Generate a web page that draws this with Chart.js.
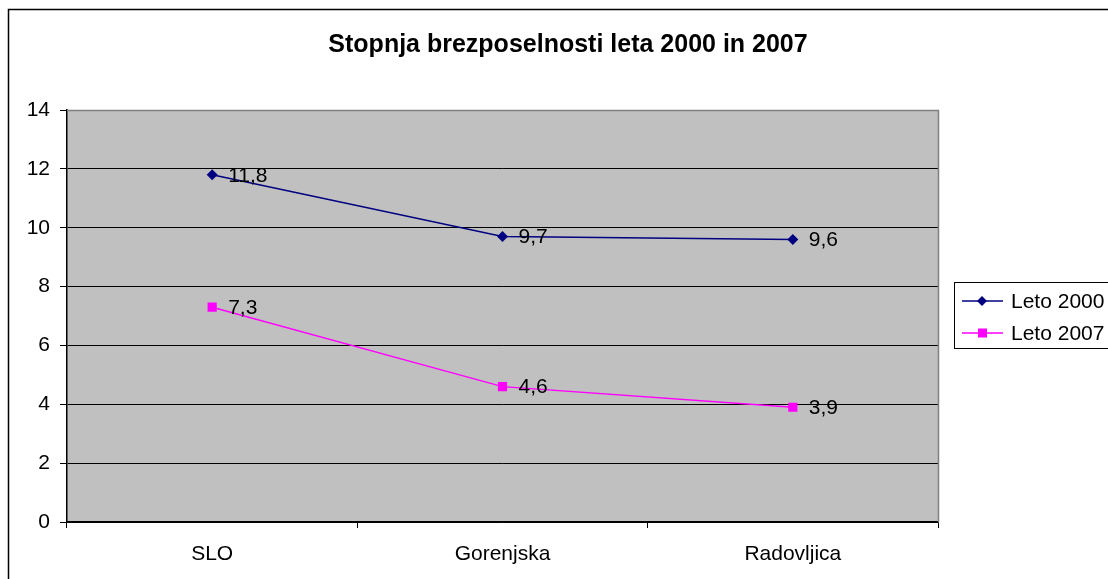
<!DOCTYPE html>
<html>
<head>
<meta charset="utf-8">
<script src="https://cdn.jsdelivr.net/npm/chart.js@4"></script>
<style>
  html, body { margin: 0; padding: 0; background: #fff; }
  canvas { display: block; }
</style>
</head>
<body>
<canvas id="chart" width="1108" height="579"></canvas>
<script>
const categories = ['SLO', 'Gorenjska', 'Radovljica'];
const leto2000 = [11.8, 9.7, 9.6];
const leto2007 = [7.3, 4.6, 3.9];
const seriesNames = ['Leto 2000', 'Leto 2007'];
const titleText = 'Stopnja brezposelnosti leta 2000 in 2007';

const FONT = '"Liberation Sans", Arial, sans-serif';

const framePlugin = {
  id: 'frame',
  beforeDraw(chart) {
    const { ctx, chartArea: a } = chart;
    ctx.save();
    ctx.fillStyle = '#fff';
    ctx.fillRect(0, 0, chart.width, chart.height);
    ctx.fillStyle = '#c0c0c0';
    ctx.fillRect(a.left, a.top, a.right - a.left, a.bottom - a.top);
    ctx.restore();
  },
  afterDraw(chart) {
    const { ctx, chartArea: a } = chart;
    ctx.save();
    // plot border top/right in gray
    ctx.strokeStyle = '#808080';
    ctx.lineWidth = 1.5;
    ctx.beginPath();
    ctx.moveTo(a.left, a.top + 0.5);
    ctx.lineTo(a.right + 0.5, a.top + 0.5);
    ctx.lineTo(a.right + 0.5, a.bottom);
    ctx.stroke();

    // outer frame
    ctx.strokeStyle = '#000';
    ctx.lineWidth = 1.5;
    ctx.strokeRect(8.5, 9.5, chart.width + 10, chart.height + 10);

    // title
    ctx.fillStyle = '#000';
    ctx.font = 'bold 25px ' + FONT;
    ctx.textAlign = 'center';
    ctx.textBaseline = 'alphabetic';
    ctx.fillText(titleText, 568, 52);

    // data labels
    ctx.font = '21px ' + FONT;
    ctx.textAlign = 'left';
    ctx.textBaseline = 'middle';
    chart.data.datasets.forEach((ds, i) => {
      chart.getDatasetMeta(i).data.forEach((pt, j) => {
        ctx.fillText(String(ds.data[j]).replace('.', ','), pt.x + 16, pt.y + 1);
      });
    });

    // legend
    ctx.fillStyle = '#fff';
    ctx.fillRect(954.5, 282.5, 160, 66);
    ctx.strokeStyle = '#000';
    ctx.lineWidth = 1;
    ctx.strokeRect(954.5, 282.5, 160, 66);
    const rows = [301, 333];
    chart.data.datasets.forEach((ds, i) => {
      const y = rows[i];
      ctx.strokeStyle = ds.borderColor;
      ctx.lineWidth = 1.5;
      ctx.beginPath();
      ctx.moveTo(962, y);
      ctx.lineTo(1003, y);
      ctx.stroke();
      ctx.fillStyle = ds.borderColor;
      if (ds.pointStyle === 'rectRot') {
        ctx.beginPath();
        ctx.moveTo(982, y - 5);
        ctx.lineTo(987, y);
        ctx.lineTo(982, y + 5);
        ctx.lineTo(977, y);
        ctx.closePath();
        ctx.fill();
      } else {
        ctx.fillRect(978, y - 4.5, 9, 9);
      }
      ctx.fillStyle = '#000';
      ctx.font = '21px ' + FONT;
      ctx.textAlign = 'left';
      ctx.textBaseline = 'middle';
      ctx.fillText(seriesNames[i], 1011, y + 1);
    });
    ctx.restore();
  }
};

new Chart(document.getElementById('chart'), {
  type: 'line',
  data: {
    labels: categories,
    datasets: [
      {
        label: seriesNames[0],
        data: leto2000,
        borderColor: '#000080',
        backgroundColor: '#000080',
        borderWidth: 1.5,
        pointStyle: 'rectRot',
        pointRadius: 5.5,
        pointBorderWidth: 0,
        tension: 0
      },
      {
        label: seriesNames[1],
        data: leto2007,
        borderColor: '#ff00ff',
        backgroundColor: '#ff00ff',
        borderWidth: 1.5,
        pointStyle: 'rect',
        pointRadius: 6.5,
        pointBorderWidth: 0,
        tension: 0
      }
    ]
  },
  options: {
    responsive: false,
    animation: false,
    layout: { padding: { top: 110, right: 170, left: 0, bottom: 0 } },
    plugins: {
      legend: { display: false },
      title: { display: false },
      tooltip: { enabled: false }
    },
    scales: {
      x: {
        offset: true,
        grid: {
          offset: true,
          drawOnChartArea: false,
          drawTicks: true,
          tickLength: 6,
          color: '#000',
          lineWidth: 1
        },
        border: { color: '#000', width: 1.5 },
        ticks: { color: '#000', font: { family: FONT, size: 21 }, padding: 14 },
        afterFit(scale) { scale.height = 57; }
      },
      y: {
        min: 0,
        max: 14,
        ticks: {
          stepSize: 2,
          color: '#000',
          font: { family: FONT, size: 21 },
          padding: 10
        },
        grid: { color: '#000', lineWidth: 1, tickLength: 7, drawTicks: true },
        border: { color: '#000', width: 1.5 },
        afterFit(scale) { scale.width = 67; }
      }
    }
  },
  plugins: [framePlugin]
});
</script>
</body>
</html>
